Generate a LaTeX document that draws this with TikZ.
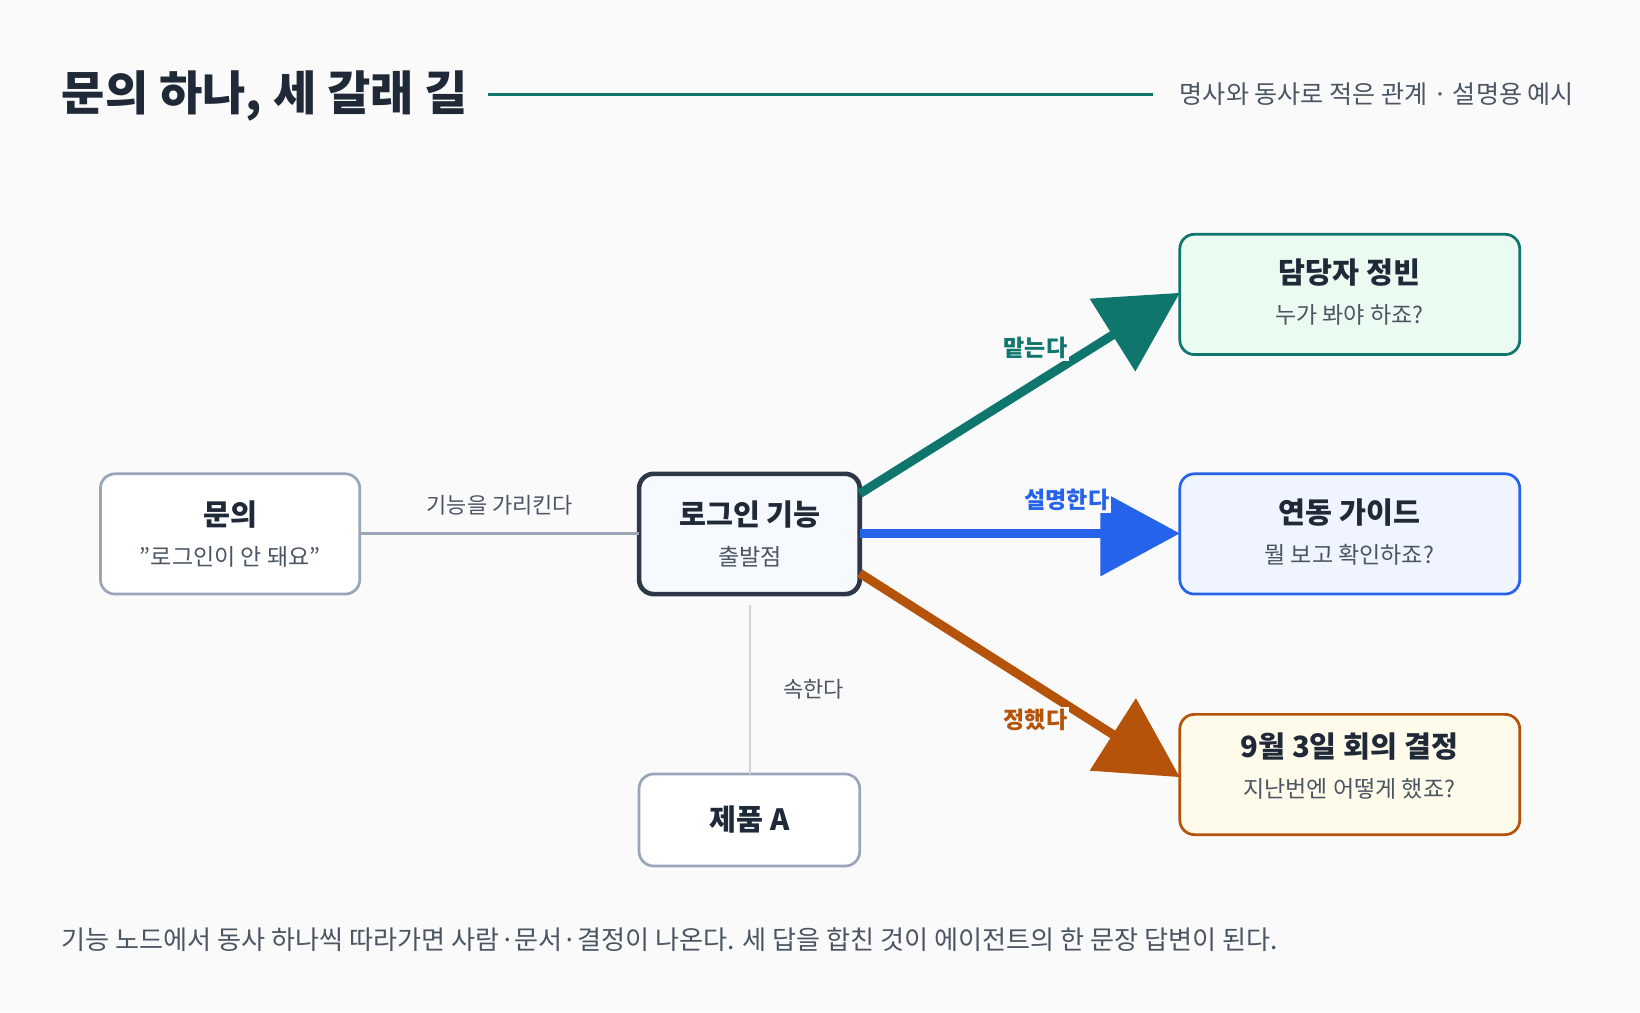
\documentclass[tikz,border=0pt]{standalone}
\usepackage{fontspec}
\setmainfont{Noto Sans CJK KR}
\usetikzlibrary{arrows.meta}
\definecolor{bg}{HTML}{FAFAFA}
\definecolor{ink}{HTML}{1F2937}
\definecolor{sub}{HTML}{4B5563}
\definecolor{gbord}{HTML}{9AA6B8}
\definecolor{lgray}{HTML}{CBD5E1}
\definecolor{dark}{HTML}{2D3748}
\definecolor{teal}{HTML}{0F766E}
\definecolor{blue}{HTML}{2563EB}
\definecolor{orng}{HTML}{B45309}
\definecolor{mint}{HTML}{EAFBF2}
\definecolor{cream}{HTML}{FFFBEA}
\begin{document}
\begin{tikzpicture}[x=0.5pt,y=-0.5pt,
 box/.style={draw=gbord,line width=1.3pt,rounded corners=7pt,fill=white},
 ttl/.style={font=\fontsize{14}{16}\selectfont\bfseries,text=ink},
 st/.style={font=\fontsize{11}{13}\selectfont,text=sub},
 el/.style={font=\fontsize{10.5}{12}\selectfont,text=sub},
 bl/.style={font=\fontsize{11}{13}\selectfont\bfseries,fill=bg,inner sep=1pt},
 arr/.style={line width=4.3pt,-{Triangle[length=38pt,width=40pt]}}]
\fill[bg] (0,0) rectangle (1568,968);
\useasboundingbox (0,0) rectangle (1568,968);
\node[anchor=west,font=\fontsize{22.5}{25}\selectfont\bfseries,text=ink] (title) at (52,92) {문의 하나, 세 갈래 길};
\coordinate (l1) at (467,90); \coordinate (l2) at (1102,90);
\draw[teal,line width=1.5pt] (l1)--(l2);
\node[anchor=east,font=\fontsize{12}{13}\selectfont,text=sub] (subt) at (1512,90) {명사와 동사로 적은 관계 · 설명용 예시};

\draw[box] (96,453) rectangle (344,568);
\node[ttl] (q) at (220,492) {문의};
\node[st] (qs) at (220,532) {{\char34}로그인이 안 돼요{\char34}};
\coordinate (qE) at (344,510);

\draw[box,draw=dark,line width=2.2pt,fill=blue!4!white] (611,453) rectangle (822,568);
\node[ttl] (lg) at (717,492) {로그인 기능};
\node[st] (lgs) at (717,532) {출발점};
\coordinate (lgW) at (611,510); \coordinate (lgS) at (717,578);
\coordinate (lgA) at (822,472); \coordinate (lgB) at (822,510); \coordinate (lgC) at (822,548);

\draw[box] (611,740) rectangle (822,828);
\node[ttl] (pa) at (717,784) {제품 A};
\coordinate (paN) at (717,740);

\draw[box,draw=teal,fill=mint] (1128,224) rectangle (1453,339);
\node[ttl] (t1) at (1290,261) {담당자 정빈}; \node[st] (t1s) at (1290,301) {누가 봐야 하죠?};
\coordinate (t1W) at (1128,280);
\draw[box,draw=blue,fill=blue!7!white] (1128,453) rectangle (1453,568);
\node[ttl] (t2) at (1290,490) {연동 가이드}; \node[st] (t2s) at (1290,530) {뭘 보고 확인하죠?};
\coordinate (t2W) at (1128,510);
\draw[box,draw=orng,fill=cream] (1128,683) rectangle (1453,798);
\node[ttl] (t3) at (1290,714) {9월 3일 회의 결정}; \node[st] (t3s) at (1290,754) {지난번엔 어떻게 했죠?};
\coordinate (t3W) at (1128,743);

\draw[gbord,line width=1.3pt] (qE)--(lgW);
\node[el] (e1) at (478,483) {기능을 가리킨다};
\draw[lgray,line width=1.3pt] (lgS)--(paN);
\node[el] (e2) at (778,659) {속한다};

\draw[arr,teal] (lgA)--(t1W);
\draw[arr,blue] (lgB)--(t2W);
\draw[arr,orng] (lgC)--(t3W);
\node[bl,text=teal] (b1) at (990,333) {맡는다};
\node[bl,text=blue] (b2) at (1020,478) {설명한다};
\node[bl,text=orng] (b3) at (990,688) {정했다};

\node[anchor=west,font=\fontsize{12.5}{14}\selectfont,text=sub] (foot) at (52,898) {기능 노드에서 동사 하나씩 따라가면 사람·문서·결정이 나온다. 세 답을 합친 것이 에이전트의 한 문장 답변이 된다.};
\end{tikzpicture}
\end{document}
